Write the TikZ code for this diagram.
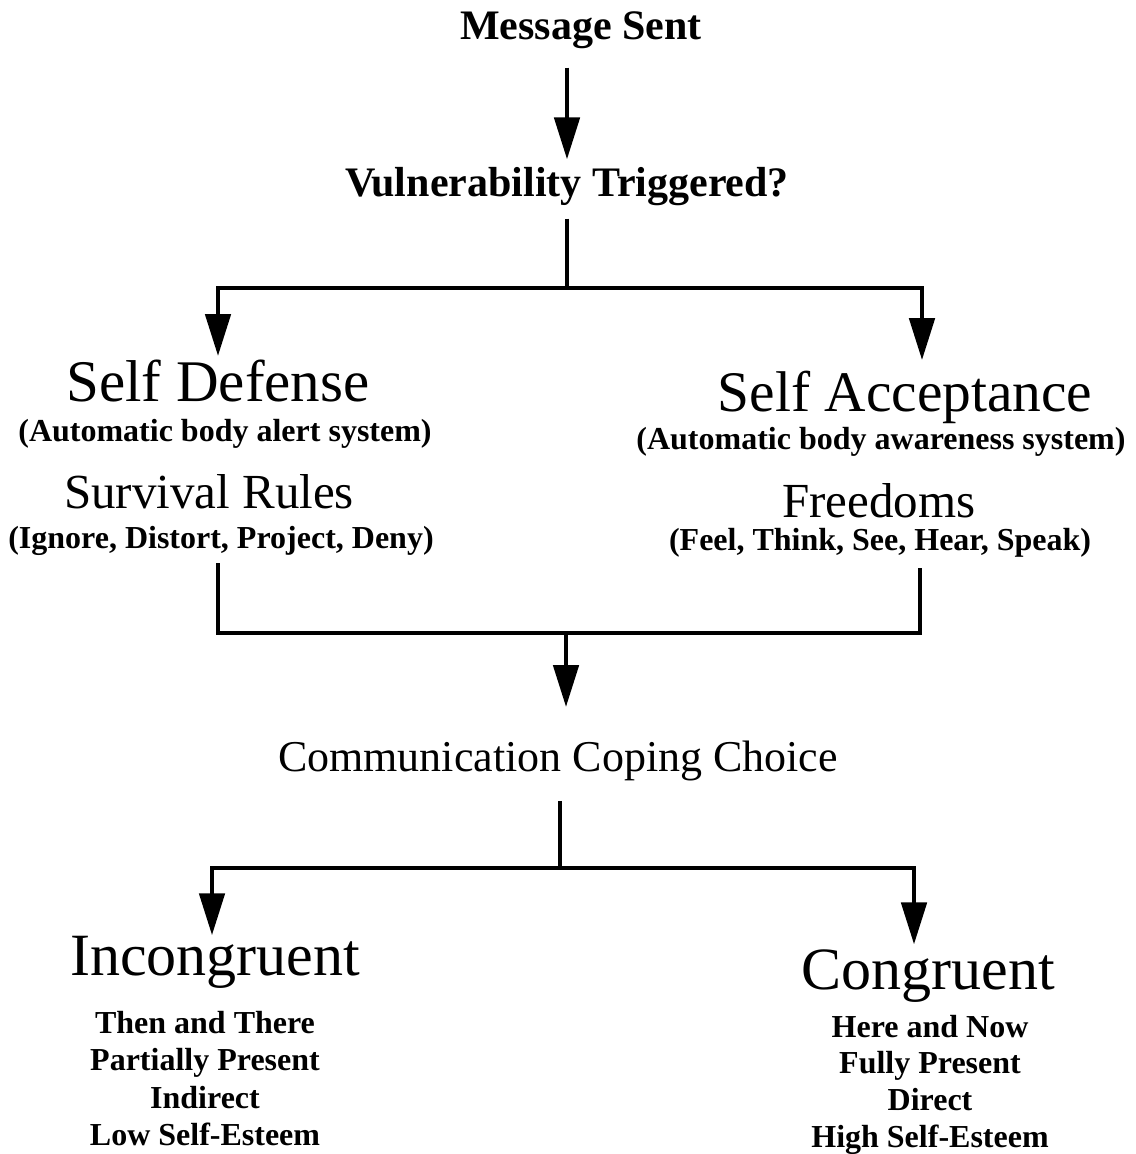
\documentclass[tikz,border=0pt]{standalone}
\usepackage{fontspec}
\setmainfont{Liberation Serif}
\usetikzlibrary{arrows.meta,calc}

\tikzstyle{linea} = [line width=2.4pt]
\tikzstyle{flecha} = [line width=2.4pt, -{Triangle[length=21pt,width=12.5pt]}]
\tikzstyle{texto} = [inner sep=0pt, anchor=base, align=center]
\tikzstyle{chico} = [texto, font=\fontsize{21}{24}\selectfont\bfseries]
\tikzstyle{grande} = [texto, font=\fontsize{29.5}{32}\selectfont]
\tikzstyle{medio} = [texto, font=\fontsize{24.5}{28}\selectfont]
\tikzstyle{nota} = [texto, font=\fontsize{16}{18}\selectfont\bfseries]
\tikzstyle{lista} = [texto, font=\fontsize{16}{18}\selectfont\bfseries]

\begin{document}
\begin{tikzpicture}[x=0.5pt, y=-0.5pt]
	\useasboundingbox (0,0) rectangle (1135,1154);
	\node[chico](sent) at (581,40) {Message Sent};
	\node[chico](trigger) at (567,197) {Vulnerability Triggered?};
	\node[grande](defense) at (218,401) {Self Defense};
	\node[nota](defsys) at (225,441) {(Automatic body alert system)};
	\node[medio](rules) at (209,508) {Survival Rules};
	\node[nota](rulelist) at (221,548) {(Ignore, Distort, Project, Deny)};
	\node[grande, font=\fontsize{28.7}{32}\selectfont](accept) at (905,411) {Self Acceptance};
	\node[nota](accsys) at (881,449) {(Automatic body awareness system)};
	\node[medio](freedoms) at (879,517) {Freedoms};
	\node[nota](freelist) at (880,550) {(Feel, Think, See, Hear, Speak)};
	\node[medio, font=\fontsize{22}{26}\selectfont](choice) at (558,771) {Communication Coping Choice};
	\node[grande, font=\fontsize{30}{32}\selectfont](incong) at (215,975) {Incongruent};
	\node[lista](in1) at (205,1033) {Then and There};
	\node[lista](in2) at (205,1070) {Partially Present};
	\node[lista](in3) at (205,1108) {Indirect};
	\node[lista](in4) at (205,1145) {Low Self-Esteem};
	\node[grande, font=\fontsize{30}{32}\selectfont](cong) at (928,989) {Congruent};
	\node[lista](con1) at (930,1037) {Here and Now};
	\node[lista](con2) at (930,1073) {Fully Present};
	\node[lista](con3) at (930,1110) {Direct};
	\node[lista](con4) at (930,1147) {High Self-Esteem};

	\coordinate (ramaA) at (567,288);
	\coordinate (ramaB) at (566,633);
	\coordinate (ramaC) at (560,868);

	\draw[flecha, shorten <=9pt, shorten >=4pt] (sent.south -| trigger) -- (trigger.north);
	\draw[linea, shorten <=6pt] (trigger.south) -- (ramaA);
	\draw[flecha, shorten >=1.5pt] (ramaA) -| (defense.north);
	\draw[flecha, shorten >=5pt] (ramaA) -| ([xshift=8.5pt]accept.north);
	\draw[linea, shorten <=4pt, shorten >=5.5pt] (rulelist.south -| defense) |- (ramaB) -| ([xshift=20pt]freelist.south);
	\draw[flecha, shorten >=16.5pt] (ramaB) -- (choice.north -| ramaB);
	\draw[linea, shorten <=10pt] (choice.south -| ramaC) -- (ramaC);
	\draw[flecha] (ramaC) -| ([xshift=-1.5pt]incong.north);
	\draw[flecha, shorten >=2.2pt] (ramaC) -| ([xshift=-7pt]cong.north);
\end{tikzpicture}
\end{document}
